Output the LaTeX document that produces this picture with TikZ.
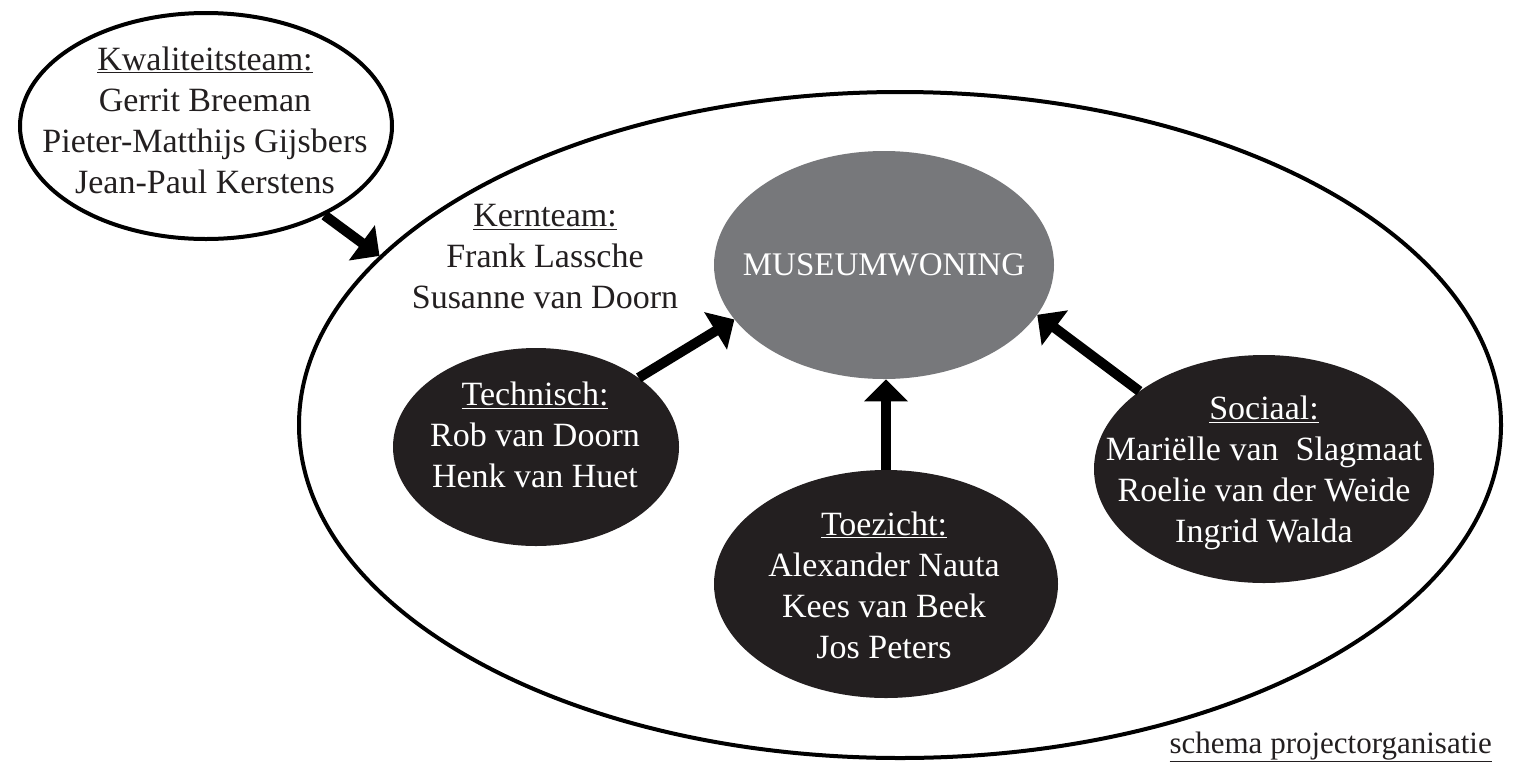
\documentclass[tikz,border=0pt]{standalone}
\usepackage{fontspec}
\setmainfont{Liberation Serif}
\usetikzlibrary{shapes.geometric}
\usetikzlibrary{arrows.meta}

\definecolor{inkdark}{RGB}{35,31,32}
\definecolor{museumgrey}{RGB}{119,120,123}

\tikzset{
  blob/.style={ellipse, inner sep=0pt},
  teamtext/.style={align=center, inner sep=0pt, font=\fontsize{25.5}{30.75}\selectfont},
  bigarrow/.style={draw=black, line width=7.5pt, -{Triangle[length=16.5pt,width=32pt]}}
}

\begin{document}
\begin{tikzpicture}[x=0.75pt,y=0.75pt,yscale=-1,xscale=1]
\useasboundingbox (0,0) rectangle (1516,761);

%Shape: Ellipse (projectteam)
\node [blob, draw=black, line width=3pt, minimum width=901.5pt, minimum height=499.5pt] (outer) at (900,425) {};
%Shape: Ellipse (kwaliteitsteam)
\node [blob, draw=black, fill=white, line width=3pt, minimum width=279pt, minimum height=169.5pt] (kwal) at (206,126) {};
%Shape: Ellipse (museumwoning)
\node [blob, fill=museumgrey, minimum width=255pt, minimum height=171pt] (museum) at (884,265) {};
%Shape: Ellipse (technisch)
\node [blob, fill=inkdark, minimum width=214.5pt, minimum height=148.5pt] (tech) at (536,447) {};
%Shape: Ellipse (toezicht)
\node [blob, fill=inkdark, minimum width=258pt, minimum height=171pt] (toez) at (886,584) {};
%Shape: Ellipse (sociaal)
\node [blob, fill=inkdark, minimum width=255pt, minimum height=171pt] (soc) at (1264,469) {};

%Arrows
\draw [bigarrow] (kwal.-37.4) -- (outer.162.1);
\draw [bigarrow] (tech.34.7) -- (museum.200.8);
\draw [bigarrow] (toez.north) -- (toez.north |- museum.south);
\draw [bigarrow] (soc.148) -- (museum.-18.2);

% Text Node
\node [teamtext, text=inkdark] (kwaltxt) at (205,120) {\underline{Kwaliteitsteam:}\\Gerrit Breeman\\Pieter-Matthijs Gijsbers\\Jean-Paul Kerstens};
% Text Node
\node [teamtext, text=inkdark] (kerntxt) at (545,257) {\underline{Kernteam:}\\Frank Lassche\\Susanne van Doorn};
% Text Node
\node [inner sep=0pt, text=white, font=\fontsize{24.75}{30}\selectfont] (museumtxt) at (884,265) {MUSEUMWONING};
% Text Node
\node [teamtext, text=white] (techtxt) at (535,435) {\underline{Technisch:}\\Rob van Doorn\\Henk van Huet};
% Text Node
\node [teamtext, text=white] (toeztxt) at (884,585) {\underline{Toezicht:}\\Alexander Nauta\\Kees van Beek\\Jos Peters};
% Text Node
\node [teamtext, text=white] (soctxt) at (1264,473) {\underline{Sociaal:}\\Mariëlle van~\ Slagmaat\\Roelie van der Weide\\Ingrid Walda};
% Text Node
\node [anchor=base east, inner sep=0pt, text=inkdark, font=\fontsize{23.25}{28}\selectfont] (caption) at (1492,753) {\underline{schema projectorganisatie}};

\end{tikzpicture}
\end{document}
